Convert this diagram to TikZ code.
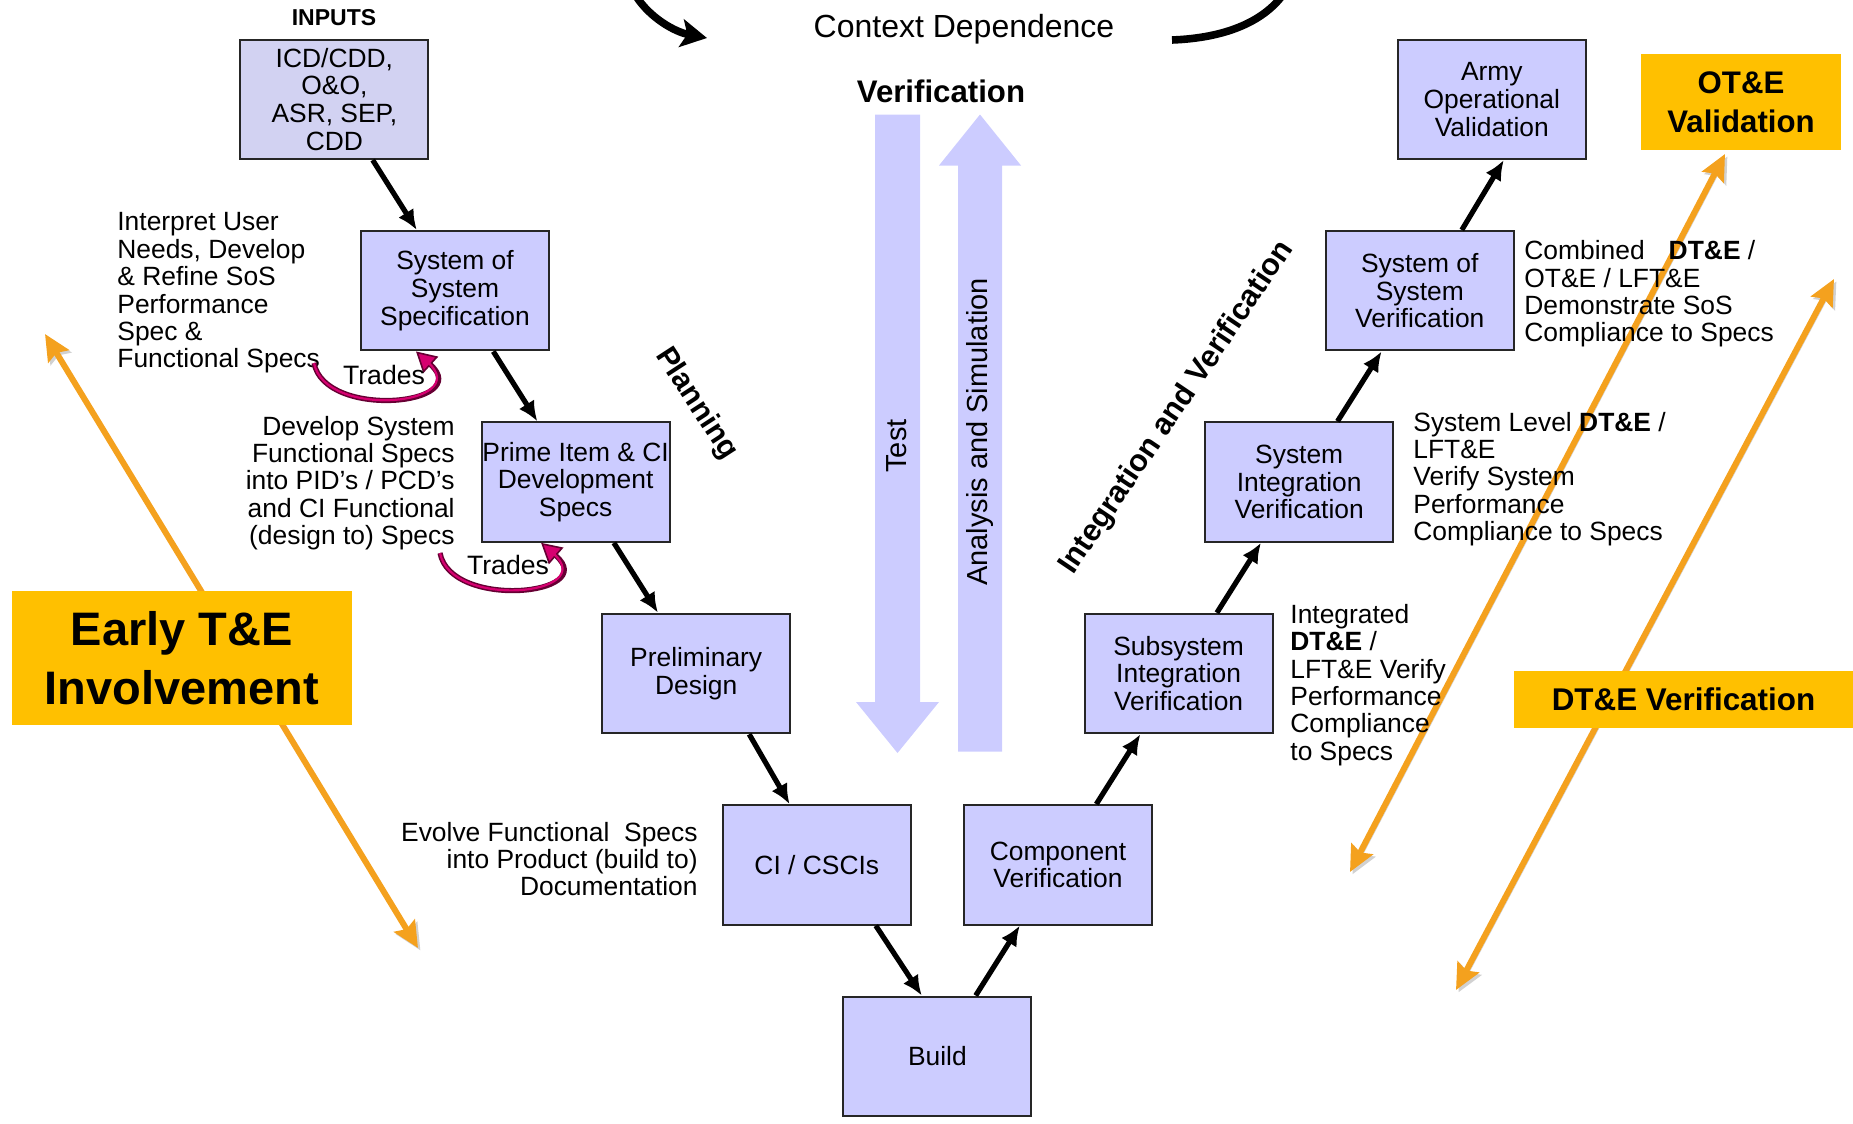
\documentclass[tikz,border=0pt]{standalone}
\usepackage{fontspec}
\setmainfont{Liberation Sans}
\usepackage{xcolor}
\usetikzlibrary{
	positioning,
	arrows.meta
}
\definecolor{lav}{RGB}{204,204,255}
\definecolor{lavgrey}{RGB}{210,210,242}
\definecolor{tgold}{RGB}{255,192,0}
\definecolor{torange}{RGB}{244,161,30}
\definecolor{tradesdark}{RGB}{102,0,51}
\definecolor{tradesfill}{RGB}{214,0,112}
\tikzset{
	node distance=95.7pt and 60.3pt,
	on grid,
	every edge/.append style={
		line width=2.6pt,
		-{Latex[length=10pt,width=9pt]}
	},
	stagebox/.style={
		draw=black!85, line width=1pt, fill=lav, align=center,
		minimum width=94pt, minimum height=59.75pt, inner sep=0pt,
		font=\fontsize{13.2}{13.9}\selectfont
	},
	sidenote/.style={
		inner sep=0pt, font=\fontsize{13.2}{13.7}\selectfont
	},
	tebox/.style={
		fill=tgold, align=center, inner sep=0pt
	},
	tearrow/.style={
		draw=torange, line width=3pt,
		>={Stealth[length=13pt,width=12pt,inset=2pt]}, <->,
		preaction={draw=black!18, transform canvas={shift={(1.2pt,-1.2pt)}}}
	},
	trades/.style={
		draw=tradesdark, line width=2.6pt,
		-{Triangle[length=10pt,width=11pt,fill=tradesfill,line width=0.8pt]},
		postaction={draw=tradesfill, line width=1.1pt, -, shorten >=8pt}
	},
	cyclearrow/.style={
		draw=black, line width=3.8pt
	},
	bigarrow/.style={
		fill=lav
	}
}

\begin{document}
\begin{tikzpicture}[x=0.5pt,y=-0.5pt]
	\useasboundingbox (0,0) rectangle (1853,1124);

	\coordinate (earlyA) at (45,334);
	\coordinate (earlyB) at (418,948);
	\coordinate (otA) at (1725,154);
	\coordinate (otB) at (1350,872);
	\coordinate (dtA) at (1834,279);
	\coordinate (dtB) at (1456,990);
	\draw[tearrow] (earlyA) -- (earlyB);
	\draw[tearrow] (otA) -- (otB);
	\draw[tearrow] (dtA) -- (dtB);

	\node[tebox, minimum width=170pt, minimum height=66.75pt,
		font=\bfseries\fontsize{23.5}{29.5}\selectfont] (early) at (182,658) {Early T\&E\\Involvement};
	\node[tebox, minimum width=99.75pt, minimum height=47.9pt,
		font=\bfseries\fontsize{15.6}{19.5}\selectfont] (otev) at (1741,102) {OT\&E\\Validation};
	\node[tebox, minimum width=169.5pt, minimum height=28.5pt,
		font=\bfseries\fontsize{15.7}{19}\selectfont] (dtev) at (1683.5,699.5) {DT\&E Verification};

	\coordinate (cycleA) at (636,-4);
	\coordinate (cycleB) at (707,38);
	\coordinate (cycleC) at (1172,40);
	\coordinate (cycleD) at (1282,-4);
	\draw[cyclearrow, -{Stealth[length=13pt,width=14pt,inset=3pt]}]
		(cycleA) .. controls (650,18) and (675,32) .. (cycleB);
	\draw[cyclearrow] (cycleC) .. controls (1225,38) and (1262,22) .. (cycleD);
	\node[font=\fontsize{16}{19}\selectfont] (ctx) at (964,29.5) {Context Dependence};
	\node[font=\bfseries\fontsize{15.6}{19}\selectfont] (verif) at (941,91) {Verification};
	\node[font=\bfseries\fontsize{11.5}{14}\selectfont] (inputs) at (334,18) {INPUTS};

	\fill[bigarrow] (875,114.6) -- (920,114.6) -- (920,702) -- (939,702) -- (897.5,753)
		-- (856,702) -- (875,702) -- cycle;
	\fill[bigarrow] (958,751.6) -- (1002,751.6) -- (1002,165.5) -- (1021,165.5) -- (980,114.5)
		-- (939,165.5) -- (958,165.5) -- cycle;
	\node[rotate=90, font=\fontsize{14.5}{17}\selectfont] (testlbl) at (897,446) {Test};
	\node[rotate=90, font=\fontsize{14.5}{17}\selectfont] (analysislbl) at (980,432) {Analysis and Simulation};

	\node[rotate=-57, font=\bfseries\fontsize{15}{18}\selectfont] (planning) at (696,404) {Planning};
	\node[rotate=56, font=\bfseries\fontsize{15.3}{18}\selectfont] (intver) at (1177,408) {Integration and Verification};

	\draw
		node[stagebox, fill=lavgrey] (icd) at (334.4,99.3) {ICD/CDD,\\O\&O,\\ASR, SEP,\\CDD}
		node[stagebox, below right=of icd]    (sos)    {System of\\System\\Specification}
		node[stagebox, below right=of sos]    (prime)  {Prime Item \& CI\\Development\\Specs}
		node[stagebox, below right=of prime]  (prelim) {Preliminary\\Design}
		node[stagebox, below right=of prelim] (ci)     {CI / CSCIs}
		node[stagebox, below right=of ci]     (build)  {Build}
		node[stagebox, above right=of build]  (comp)   {Component\\Verification}
		node[stagebox, above right=of comp]   (subsys) {Subsystem\\Integration\\Verification}
		node[stagebox, above right=of subsys] (sysint) {System\\Integration\\Verification}
		node[stagebox, above right=of sysint] (sosver) {System of\\System\\Verification}
		node[stagebox, above right=95.7pt and 36pt of sosver] (army) {Army\\Operational\\Validation}

		(icd)    edge (sos)
		(sos)    edge (prime)
		(prime)  edge (prelim)
		([xshift=26.5pt]prelim.south) edge ([xshift=-13.6pt]ci.north)
		([xshift=29.5pt]ci.south)     edge ([xshift=-7.8pt]build.north)
		(build)  edge (comp)
		(comp)   edge (subsys)
		(subsys) edge (sysint)
		(sysint) edge (sosver)
		([xshift=21pt]sosver.north)   edge ([xshift=6pt]army.south)
	;

	\node[sidenote, anchor=west, align=left] (interpret) at (117,293)
		{Interpret User\\Needs, Develop\\\& Refine SoS\\Performance\\Spec \&\\Functional Specs};
	\node[sidenote, anchor=east, align=right] (develop) at (455,483)
		{Develop System\\Functional Specs\\into PID’s / PCD’s\\and CI Functional\\(design to) Specs};
	\node[sidenote, anchor=east, align=right] (evolve) at (698,859)
		{Evolve Functional\ \ Specs\\into Product (build to)\\Documentation};
	\node[sidenote, anchor=west, align=left] (integrated) at (1290,685)
		{Integrated\\\textbf{DT\&E} /\\LFT\&E Verify\\Performance\\Compliance\\to Specs};
	\node[sidenote, anchor=west, align=left] (syslevel) at (1413,479)
		{System Level \textbf{DT\&E} /\\LFT\&E\\Verify System\\Performance\\Compliance to Specs};
	\node[sidenote, anchor=west, align=left] (combined) at (1524,294)
		{Combined\hspace{12pt}\textbf{DT\&E} /\\OT\&E / LFT\&E\\Demonstrate SoS\\Compliance to Specs};

	\coordinate (tradesA) at (314,363);
	\coordinate (tradesB) at (440,553);
	\draw[trades] (tradesA) .. controls (325,420) and (475,405) .. ([xshift=-19.5pt]sos.south);
	\draw[trades] (tradesB) .. controls (451,610) and (601,595) .. ([xshift=-17.25pt]prime.south);
	\node[sidenote, font=\fontsize{13.3}{16}\selectfont] (tradesAlbl) at (384,375) {Trades};
	\node[sidenote, font=\fontsize{13.3}{16}\selectfont] (tradesBlbl) at (508,565) {Trades};
\end{tikzpicture}
\end{document}
